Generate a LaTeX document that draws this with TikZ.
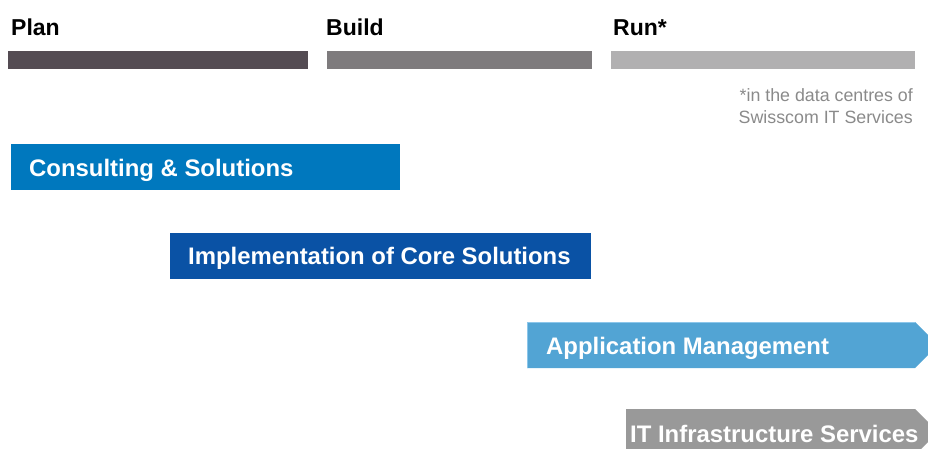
\documentclass[tikz,border=0pt]{standalone}
\usepackage{fontspec}
\setmainfont{Liberation Sans}
\definecolor{planc}{HTML}{544C53}
\definecolor{buildc}{HTML}{7E7B7D}
\definecolor{runc}{HTML}{B1B0B1}
\definecolor{consc}{HTML}{0078BE}
\definecolor{implc}{HTML}{0A52A5}
\definecolor{appc}{HTML}{52A4D4}
\definecolor{appedge}{HTML}{8CC6EA}
\definecolor{infrac}{HTML}{999999}
\definecolor{notec}{HTML}{8A8A8A}
\begin{document}
\begin{tikzpicture}[x=1pt,y=-1pt,
  head/.style={anchor=base west,inner sep=0pt,font=\fontsize{23}{27}\selectfont\bfseries,text=black},
  boxtext/.style={anchor=base west,inner sep=0pt,font=\fontsize{23.9}{28}\selectfont\bfseries,text=white},
  notetext/.style={anchor=base east,inner sep=0pt,font=\fontsize{17.8}{21}\selectfont,text=notec},
  bar/.style={draw=none,inner sep=0pt,anchor=north west,minimum height=18pt},
  blk/.style={draw=none,inner sep=0pt,anchor=north west,minimum height=46pt}]
\useasboundingbox (0,0) rectangle (928,448);
% phase headings and bars
\node[head] (plan) at (11,35) {Plan};
\node[head] (build) at (326,35) {Build};
\node[head] (run) at (613,35) {Run*};
\node[bar,fill=planc,minimum width=300pt] (planbar) at (8,51) {};
\node[bar,fill=buildc,minimum width=265pt] (buildbar) at (327,51) {};
\node[bar,fill=runc,minimum width=304pt] (runbar) at (611,51) {};
% footnote
\node[notetext] (note1) at (913,101) {*in the data centres of};
\node[notetext] (note2) at (913,123) {Swisscom IT Services};
% service blocks
\node[blk,fill=consc,minimum width=389pt] (cons) at (11,144) {};
\node[boxtext] (constext) at (29,176) {Consulting \& Solutions};
\node[blk,fill=implc,minimum width=421pt] (impl) at (170,233) {};
\node[boxtext] (impltext) at (188,264.5) {Implementation of Core Solutions};
\fill[appc] (527,322) -- (915,322) -- (938,345) -- (915,368) -- (527,368) -- cycle;
\draw[appedge,line width=0.8pt] (527.4,368) -- (527.4,322.4) -- (915,322.4);
\node[boxtext] (apptext) at (546,354) {Application Management};
\fill[infrac] (626,409) -- (915,409) -- (938,432) -- (915,455) -- (626,455) -- cycle;
\node[boxtext] (infratext) at (630,442) {IT Infrastructure Services};
\end{tikzpicture}
\end{document}
